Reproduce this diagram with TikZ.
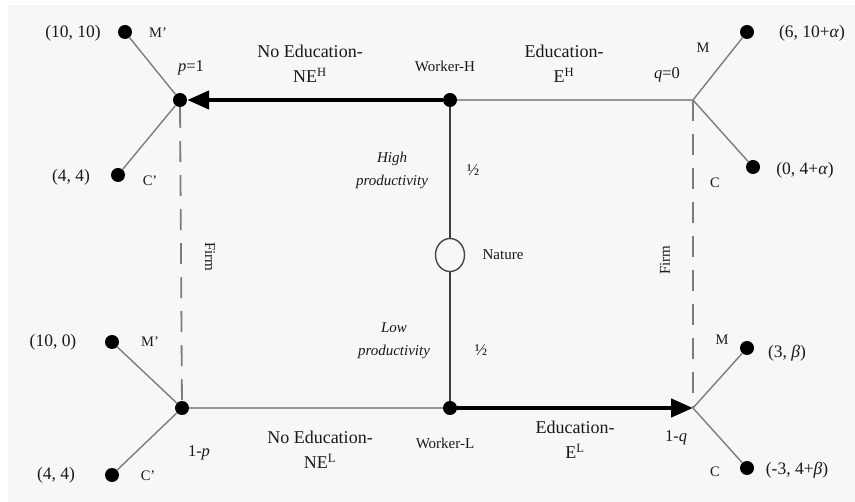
\documentclass[tikz,border=0pt]{standalone}
\usepackage{fontspec}
\setmainfont{Liberation Serif}
\usepackage{tikz}
\usetikzlibrary{arrows.meta, positioning, shapes.geometric}
\definecolor{paper}{RGB}{247, 247, 247}
\definecolor{ink}{RGB}{25, 25, 25}
\definecolor{branchgray}{RGB}{125, 125, 125}
\definecolor{roadgray}{RGB}{150, 150, 150}

\begin{document}
\begin{tikzpicture}[
  x=1pt, y=-1pt,
  dot/.style={circle, fill=black, inner sep=0pt, minimum size=14pt},
  chance/.style={ellipse, draw=ink!80, line width=1.4pt, fill=paper,
                 inner sep=0pt, minimum width=29pt, minimum height=33pt},
  branch/.style={draw=branchgray, line width=1.4pt},
  road/.style={draw=roadgray, line width=2.6pt},
  choice/.style={line width=4.5pt, -{Triangle[length=22pt, width=18pt]}},
  nat/.style={draw=ink!85, line width=1.5pt},
  infoset/.style={draw=branchgray, line width=1.8pt, dash pattern=on 21pt off 13pt},
  payoff/.style={font=\fontsize{17.5}{19}\selectfont, text=ink},
  act/.style={font=\fontsize{18}{25}\selectfont, align=center, text=ink},
  who/.style={font=\fontsize{15}{17}\selectfont, text=ink},
  resp/.style={font=\fontsize{14.5}{16}\selectfont, text=ink},
  prob/.style={font=\fontsize{16.5}{18}\selectfont, text=ink},
  kind/.style={font=\fontsize{15}{23}\selectfont\itshape, align=center, text=ink}
]
  \useasboundingbox (0,0) rectangle (855,502);
  \fill[white] (0,0) rectangle (855,502);
  \fill[paper] (8,5) rectangle (855,502);

  % decision nodes
  \node[dot] (wh) at (450,100) {};
  \node[dot] (wl) at (450,408) {};
  \node[chance] (nature) at (450,255) {};
  \node[dot] (lh) at (180,100) {};
  \node[dot] (ll) at (182,408) {};
  \coordinate (rh) at (693,100);
  \coordinate (rl) at (693,408);

  % end points
  \node[dot] (lhM) at (125,32) {};
  \node[dot] (lhC) at (118,175) {};
  \node[dot] (llM) at (112,342) {};
  \node[dot] (llC) at (112,475) {};
  \node[dot] (rhM) at (747,32) {};
  \node[dot] (rhC) at (753,167) {};
  \node[dot] (rlM) at (747,348) {};
  \node[dot] (rlC) at (747,468) {};

  \draw[infoset] (lh) -- (ll);
  \draw[infoset] (rh) -- (rl);

  \draw[nat] (wh) -- (nature);
  \draw[nat] (nature) -- (wl);

  \draw[road] (wh) -- (rh);
  \draw[road] (wl) -- (ll);
  \draw[choice] (wh) -- (lh);
  \draw[choice] (wl) -- (rl);

  \draw[branch] (lh) -- (lhM);
  \draw[branch] (lh) -- (lhC);
  \draw[branch] (ll) -- (llM);
  \draw[branch] (ll) -- (llC);
  \draw[branch] (rh) -- (rhM);
  \draw[branch] (rh) -- (rhC);
  \draw[branch] (rl) -- (rlM);
  \draw[branch] (rl) -- (rlC);

  % labels
  \node[payoff] at (73,33) {(10, 10)};
  \node[payoff] at (71,177) {(4, 4)};
  \node[payoff] at (53,342) {(10, 0)};
  \node[payoff] at (56,475) {(4, 4)};
  \node[payoff] at (812,33) {(6, 10+\textit{α})};
  \node[payoff] at (805,170) {(0, 4+\textit{α})};
  \node[payoff] at (787,353) {(3, \textit{β})};
  \node[payoff] at (797,470) {(-3, 4+\textit{β})};

  \node[resp] at (158,33) {M'};
  \node[resp] at (150,181) {C'};
  \node[resp] at (150,342) {M'};
  \node[resp] at (148,476) {C'};
  \node[resp] at (703,48) {M};
  \node[resp] at (715,183) {C};
  \node[resp] at (722,340) {M};
  \node[resp] at (715,472) {C};

  \node[prob] at (191,68) {\textit{p}=1};
  \node[prob] at (199,453) {1-\textit{p}};
  \node[prob] at (667,75) {\textit{q}=0};
  \node[prob] at (676,438) {1-\textit{q}};
  \node[prob] at (473,170) {½};
  \node[prob] at (481,350) {½};

  \node[act] at (310,64) {No Education-\\NE\textsuperscript{H}};
  \node[act] at (564,64) {Education-\\E\textsuperscript{H}};
  \node[act] at (320,450) {No Education-\\NE\textsuperscript{L}};
  \node[act] at (575,440) {Education-\\E\textsuperscript{L}};

  \node[who] at (445,66) {Worker-H};
  \node[who] at (445,443) {Worker-L};
  \node[who] at (503,255) {Nature};

  \node[kind] at (392,170) {High\\productivity};
  \node[kind] at (394,341) {Low\\productivity};

  \node[who, rotate=-90] at (210,257) {Firm};
  \node[who, rotate=90] at (665,260) {Firm};
\end{tikzpicture}
\end{document}
